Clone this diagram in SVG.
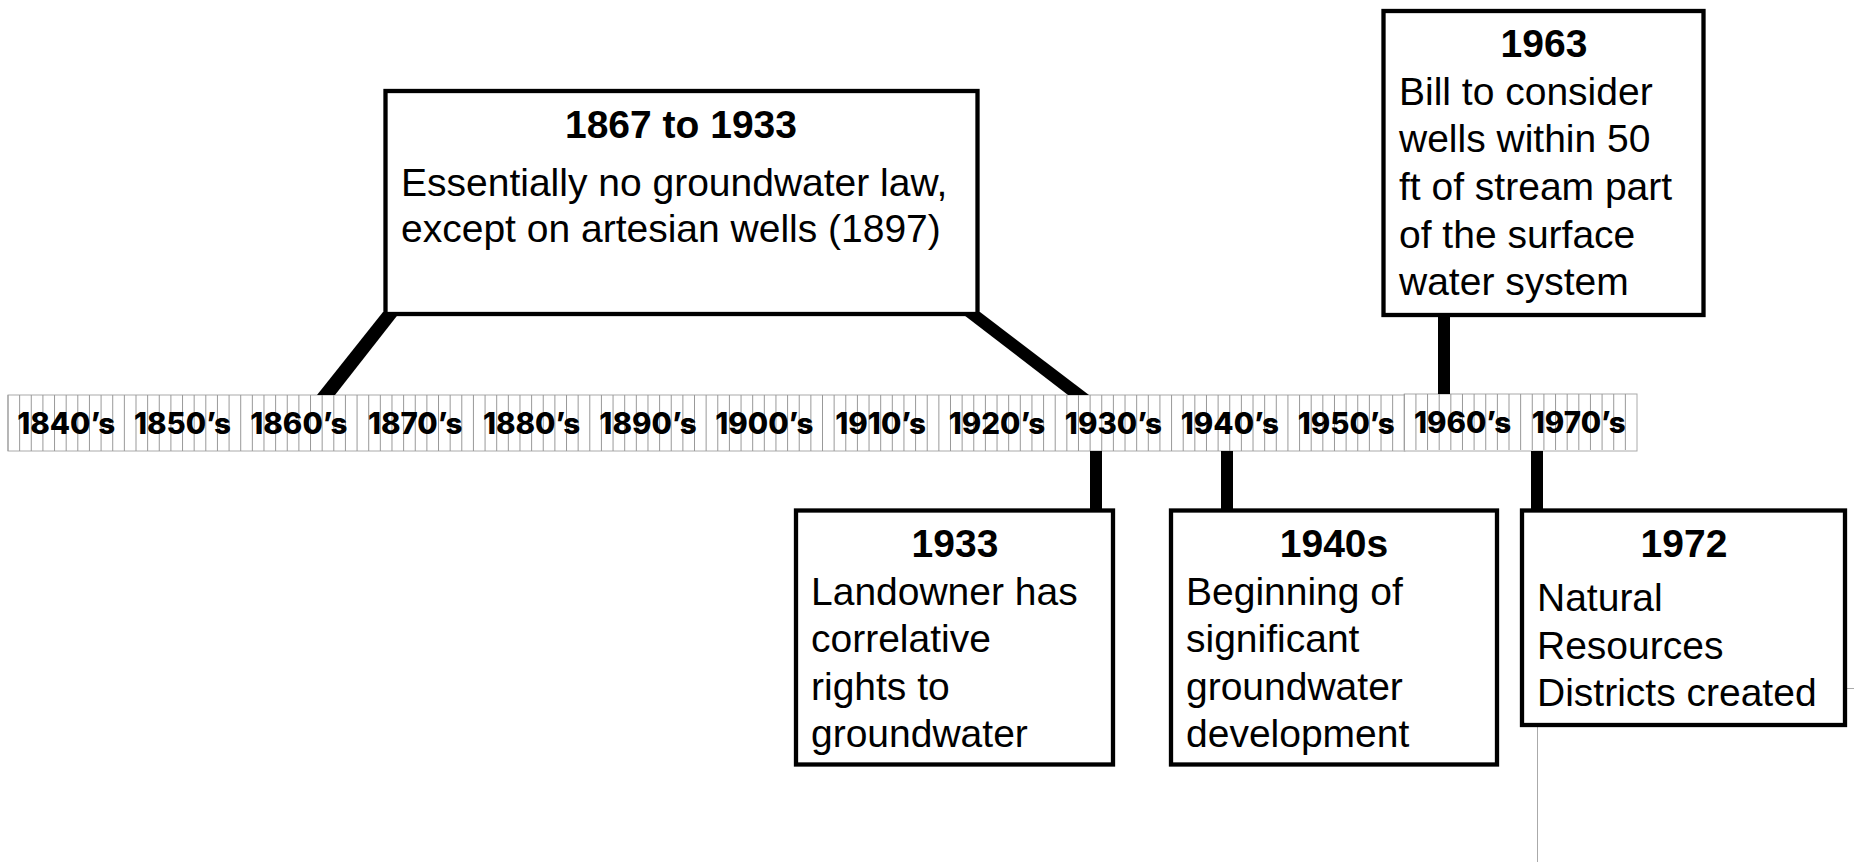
<svg xmlns="http://www.w3.org/2000/svg" xmlns:xlink="http://www.w3.org/1999/xlink" width="1854" height="862" viewBox="0 0 1854 862">
<style>
.box{fill:#fff;stroke:#000;stroke-width:4.3}
.ttl{font-family:"Liberation Sans",Arial,sans-serif;font-weight:bold;font-size:39px;fill:#000;text-anchor:middle}
.bd{font-family:"Liberation Sans",Arial,sans-serif;font-size:39px;fill:#000}
.dec{font-family:Inter,"Open Sans",sans-serif;font-weight:800;font-size:29.5px;fill:#000;text-anchor:middle}
.tick{stroke:#999;stroke-width:1;fill:none}
.bar{fill:#000}
.thin{stroke:#aaa;stroke-width:1;fill:none}
</style>
<defs>
<path id="decTicks" class="tick" d="M0 0V56M11.64 0V56M23.27 0V56M34.91 0V56M46.54 0V56M58.18 0V56M69.81 0V56M81.45 0V56M93.09 0V56M104.72 0V56"/>
</defs>
<rect width="1854" height="862" fill="#fff"/>
<g id="timeline">
<rect x="8" y="395" width="1397" height="56" fill="#fff" stroke="#aaa" stroke-width="1"/>
<rect x="1404.3" y="394" width="232.7" height="57" fill="#fff" stroke="#aaa" stroke-width="1"/>
<use xlink:href="#decTicks" x="8" y="395"/>
<use xlink:href="#decTicks" x="124.36" y="395"/>
<use xlink:href="#decTicks" x="240.71" y="395"/>
<use xlink:href="#decTicks" x="357.07" y="395"/>
<use xlink:href="#decTicks" x="473.43" y="395"/>
<use xlink:href="#decTicks" x="589.79" y="395"/>
<use xlink:href="#decTicks" x="706.14" y="395"/>
<use xlink:href="#decTicks" x="822.5" y="395"/>
<use xlink:href="#decTicks" x="938.86" y="395"/>
<use xlink:href="#decTicks" x="1055.21" y="395"/>
<use xlink:href="#decTicks" x="1171.57" y="395"/>
<use xlink:href="#decTicks" x="1287.93" y="395"/>
<use xlink:href="#decTicks" x="1404.29" y="394"/>
<use xlink:href="#decTicks" x="1520.64" y="394"/>
<text class="dec" x="66.2" y="433.5">1840’s</text>
<text class="dec" x="182.5" y="433.5">1850’s</text>
<text class="dec" x="298.9" y="433.5">1860’s</text>
<text class="dec" x="415.2" y="433.5">1870’s</text>
<text class="dec" x="531.6" y="433.5">1880’s</text>
<text class="dec" x="648.0" y="433.5">1890’s</text>
<text class="dec" x="764.3" y="433.5">1900’s</text>
<text class="dec" x="880.7" y="433.5">1910’s</text>
<text class="dec" x="997.0" y="433.5">1920’s</text>
<text class="dec" x="1113.4" y="433.5">1930’s</text>
<text class="dec" x="1229.8" y="433.5">1940’s</text>
<text class="dec" x="1346.1" y="433.5">1950’s</text>
<text class="dec" x="1462.5" y="432.5">1960’s</text>
<text class="dec" x="1578.8" y="432.5">1970’s</text>
</g>
<g id="connectors">
<polygon class="bar" points="383,312 400,312 335,395 317,395"/>
<polygon class="bar" points="960,312 980,312 1089,395 1068,395"/>
<rect class="bar" x="1438" y="315" width="12" height="79"/>
<rect class="bar" x="1090" y="451" width="12" height="60"/>
<rect class="bar" x="1221" y="451" width="12" height="60"/>
<rect class="bar" x="1531" y="451" width="12" height="60"/>
<path class="thin" d="M1537.5 727V862M1847 688.5H1854"/>
</g>
<g id="node-1867">
<rect class="box" x="385.5" y="91" width="592" height="223"/>
<text class="ttl" x="681" y="138">1867 to 1933</text>
<text class="bd" x="401" y="196">Essentially no groundwater law,</text>
<text class="bd" x="401" y="242">except on artesian wells (1897)</text>
</g>
<g id="node-1963">
<rect class="box" x="1383.5" y="11" width="320" height="304"/>
<text class="ttl" x="1544" y="57">1963</text>
<text class="bd" x="1399" y="105">Bill to consider</text>
<text class="bd" x="1399" y="152">wells within 50</text>
<text class="bd" x="1399" y="200">ft of stream part</text>
<text class="bd" x="1399" y="248">of the surface</text>
<text class="bd" x="1399" y="295">water system</text>
</g>
<g id="node-1933">
<rect class="box" x="796" y="510.5" width="317" height="254"/>
<text class="ttl" x="955" y="557">1933</text>
<text class="bd" x="811" y="604.5">Landowner has</text>
<text class="bd" x="811" y="652">correlative</text>
<text class="bd" x="811" y="699.5">rights to</text>
<text class="bd" x="811" y="747">groundwater</text>
</g>
<g id="node-1940s">
<rect class="box" x="1171" y="510.5" width="326" height="254"/>
<text class="ttl" x="1334" y="557">1940s</text>
<text class="bd" x="1186" y="604.5">Beginning of</text>
<text class="bd" x="1186" y="652">significant</text>
<text class="bd" x="1186" y="699.5">groundwater</text>
<text class="bd" x="1186" y="747">development</text>
</g>
<g id="node-1972">
<rect class="box" x="1522" y="510.5" width="323" height="214.5"/>
<text class="ttl" x="1684" y="557">1972</text>
<text class="bd" x="1537" y="611">Natural</text>
<text class="bd" x="1537" y="658.5">Resources</text>
<text class="bd" x="1537" y="706">Districts created</text>
</g>
</svg>
